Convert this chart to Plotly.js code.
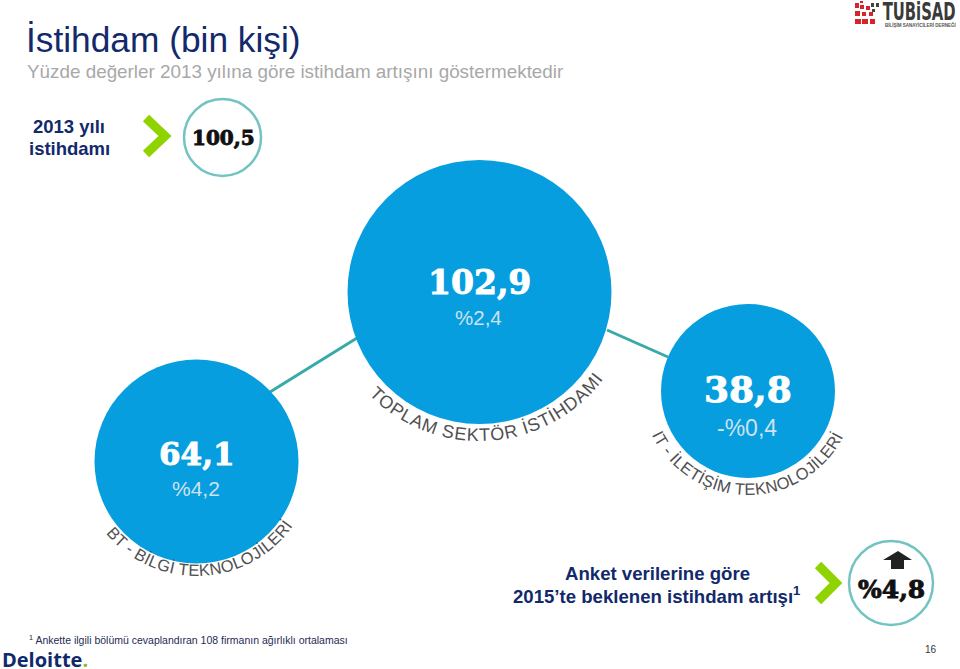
<!DOCTYPE html>
<html><head><meta charset="utf-8">
<script src="https://cdn.plot.ly/plotly-3.0.1.min.js"></script>
<style>html,body{margin:0;padding:0;background:#fff}#c{width:960px;height:669px}</style>
</head><body><div id="c"></div>
<script>
// ---- data ----
var sectorNames = ['BT - BİLGİ TEKNOLOJİLERİ','TOPLAM SEKTÖR İSTİHDAMI','IT - İLETİŞİM TEKNOLOJİLERİ'];
var employment2014 = ['64,1','102,9','38,8'];
var growthLabels = ['%4,2','%2,4','-%0,4'];
var employment2013 = '100,5';
var expectedGrowth = '%4,8';

// ---- layout config ----
var BLUE='#069ede', TEAL='#38aaa8', GREEN='#8fd400', NAVY='#12296b', ARIAL='"Liberation Sans", Arial, sans-serif', SLAB='"DejaVu Serif", serif';
var nodes = [{x:196.5,y:461.5,r:102,arc:{cy:458.5,r:117.5,a0:-50.5,a1:55,fs:16.5}, vy:454,gy:488,vs:31,gs:21},
             {x:479.5,y:292,r:132,arc:{cy:286,r:155,a0:-45.5,a1:53,fs:18}, vy:282,gy:317,vs:33,gs:20.5},
             {x:748,y:391,r:87,arc:{cy:388,r:107,a0:-64,a1:63,fs:16.5}, vy:389,gy:428,vs:36,gs:23}];

var traces = [
 {x:[270,357,null,607,668],y:[392,338,null,330,357],mode:'lines',line:{color:TEAL,width:3}},
 {x:nodes.map(function(n){return n.x}),y:nodes.map(function(n){return n.y}),mode:'markers',
  marker:{size:nodes.map(function(n){return n.r*2}),color:BLUE,line:{width:0},opacity:1}},
 {x:[222.5,891],y:[137.5,583],mode:'markers',marker:{size:[77,84],color:'#fff',line:{color:TEAL,width:2.5}}},
 {x:[146,165,146],y:[118,136,154],mode:'lines',line:{color:GREEN,width:9}},
 {x:[818,836,818],y:[565,583,601],mode:'lines',line:{color:GREEN,width:9}},
 {x:[898,912,904,904,891,891,883,898],y:[551,560,560,569,569,560,560,551],mode:'lines',fill:'toself',fillcolor:'#222',line:{color:'#222',width:0}}
];

function ann(t,x,y,size,color,anchor,family){
  return {text:t,x:x,y:y,xref:'x',yref:'y',showarrow:false,xanchor:anchor||'center',yanchor:'middle',
          font:{size:size,color:color,family:family||ARIAL}};
}
var annotations = [
 ann('İstihdam (bin kişi)',24,39,35.3,NAVY,'left'),
 ann('Yüzde değerler 2013 yılına göre istihdam artışını göstermektedir',24.5,71,18.85,'#a8a8a8','left'),
 ann('<b>2013 yılı</b>',69,126,18.5,NAVY),
 ann('<b>istihdamı</b>',69,148,18.5,NAVY),
 ann('<b>'+employment2013+'</b>',223.5,138,20,'#111','center',SLAB),
 ann('<b>Anket verilerine göre</b>',657,573,18.6,NAVY),
 ann('<b>2015’te beklenen istihdam artışı<sup>1</sup></b>',656,595,18.6,NAVY),
 ann('<b>'+expectedGrowth+'</b>',891.5,589,25,'#111','center',SLAB),
 ann('<sup>1</sup> Ankette ilgili bölümü cevaplandıran 108 firmanın ağırlıklı ortalaması',27,639,10.5,'#1f2a55','left'),
 ann('<b>Deloitte<span style="color:#86bc25">.</span></b>',0,659,20,'#0f2a6b','left','"Open Sans", sans-serif'),
 ann('16',931,649,10,'#333'),
 ann('<b>TÜBiSAD</b>',918.5,11,24,'#3a3a3a','center','"DejaVu Sans Condensed",sans-serif'),
 ann('<b>BİLİŞİM SANAYİCİLERİ DERNEĞİ</b>',883,24,4.5,'#555','left')
];
nodes.forEach(function(n,i){
  annotations.push(ann('<b>'+employment2014[i]+'</b>',n.x,n.vy,n.vs,'#fff','center',SLAB));
  annotations.push(ann(growthLabels[i],n.x-1,n.gy,n.gs,'#cfe2ee'));
});

var shapes=[];
[[855,19,6,5],[862,19,6,5],[870,19,5,5],[855,11,5,5],[862,12,4,4],[869,12,4,4],[855,3,4,5],[860,5,4,4],[866,6,4,4],[860,1,3,2]].forEach(function(p){
  shapes.push({type:'rect',xref:'x',yref:'y',x0:p[0],x1:p[0]+p[2],y0:p[1],y1:p[1]+p[3],fillcolor:'#d8232a',line:{width:0}});
});
[[871,3,3,4],[876,3,3,4],[872,9,3,3]].forEach(function(p){
  shapes.push({type:'rect',xref:'x',yref:'y',x0:p[0],x1:p[0]+p[2],y0:p[1],y1:p[1]+p[3],fillcolor:'#444',line:{width:0}});
});

var layout={width:960,height:669,margin:{l:0,r:0,t:0,b:0},showlegend:false,
 paper_bgcolor:'#fff',plot_bgcolor:'#fff',
 xaxis:{range:[0,960],visible:false,fixedrange:true},
 yaxis:{range:[669,0],visible:false,fixedrange:true},
 annotations:annotations,shapes:shapes};

Plotly.newPlot('c',traces,layout,{displayModeBar:false,staticPlot:true}).then(function(gd){
  var svg=gd.querySelector('.main-svg'), NS='http://www.w3.org/2000/svg';
  nodes.forEach(function(n,i){
    var a=n.arc, rad=Math.PI/180, ext=20;
    var sx=n.x+a.r*Math.sin((a.a0-ext)*rad), sy=a.cy+a.r*Math.cos((a.a0-ext)*rad);
    var ex=n.x+a.r*Math.sin((a.a1+ext)*rad), ey=a.cy+a.r*Math.cos((a.a1+ext)*rad);
    var p=document.createElementNS(NS,'path');
    p.setAttribute('id','arc'+i); p.setAttribute('fill','none');
    p.setAttribute('d','M'+sx+' '+sy+' A'+a.r+' '+a.r+' 0 0 0 '+ex+' '+ey);
    var t=document.createElementNS(NS,'text');
    t.setAttribute('font-family','Liberation Sans, Arial, sans-serif');
    t.setAttribute('font-size',a.fs); t.setAttribute('fill','#505050');
    t.setAttribute('text-anchor','middle');
    var tp=document.createElementNS(NS,'textPath');
    tp.setAttribute('href','#arc'+i); tp.setAttribute('startOffset','50%');
    tp.setAttribute('textLength',((a.a1-a.a0)*rad*a.r).toFixed(1)); tp.setAttribute('lengthAdjust','spacing');
    tp.textContent=sectorNames[i];
    t.appendChild(tp); svg.appendChild(p); svg.appendChild(t);
  });
  // heavier weight for the slab numerals, condensed logo wordmark
  gd.querySelectorAll('.annotation-text').forEach(function(el){
    var s=el.textContent;
    if(employment2014.indexOf(s)>=0||s===employment2013||s===expectedGrowth){
      el.style.stroke=(employment2014.indexOf(s)>=0)?'#fff':'#111';
      el.style.strokeWidth='0.9px';
    }
    if(s==='TÜBiSAD'){el.setAttribute('textLength','73');el.setAttribute('lengthAdjust','spacingAndGlyphs');}
  });
});
</script></body></html>
